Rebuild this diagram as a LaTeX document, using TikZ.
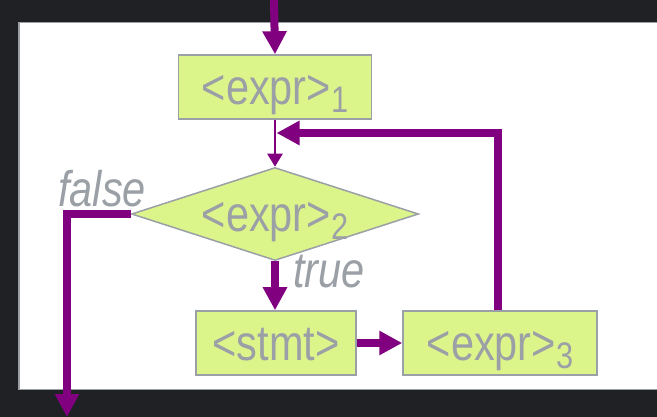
\documentclass[tikz,border=0pt]{standalone}
\usepackage{fontspec}
\setmainfont{Liberation Sans}[FakeStretch=0.83]
\usetikzlibrary{arrows.meta,shapes.geometric}

\definecolor{bgdark}{HTML}{202124}
\definecolor{edgegray}{HTML}{9AA0A6}
\definecolor{boxfill}{HTML}{DCF58B}
\definecolor{flowpurple}{HTML}{800080}

% large label font and lowered index
\newcommand{\bigfont}{\fontsize{50pt}{52pt}\selectfont}
\newcommand{\lowidx}[1]{\raisebox{-8pt}{\fontsize{37pt}{39pt}\selectfont #1}}

\tikzset{
  stepbox/.style={draw=edgegray, line width=1.5pt, fill=boxfill, text=edgegray,
    font=\bigfont, inner sep=0pt, text height=35pt, text depth=0pt,
    minimum height=64pt},
  testbox/.style={diamond, draw=edgegray, line width=1.5pt, fill=boxfill,
    text=edgegray, font=\bigfont, inner sep=0pt, text height=35pt,
    text depth=0pt, shape aspect=3, minimum width=287pt, minimum height=93pt},
  flow/.style={draw=flowpurple, line width=8pt,
    -{Triangle[length=23pt,width=23pt]}},
  thinflow/.style={draw=flowpurple, line width=2.5pt,
    -{Triangle[length=13pt,width=15pt]}},
  lbl/.style={text=edgegray, font=\bigfont\itshape, inner sep=0pt}
}

\begin{document}
\begin{tikzpicture}[x=1pt, y=-1pt]
  % dark page and white panel
  \fill[bgdark] (0,0) rectangle (657,417);
  \useasboundingbox (0,0) rectangle (657,417);
  \draw[edgegray, line width=1.5pt, fill=white] (19,22.5) rectangle (662,389.5);

  % flowchart blocks
  \node (init) [stepbox, minimum width=193pt] at (275,87) {<expr>\lowidx{1}};
  \node (test) [testbox] at (275,214) {<expr>\lowidx{2}};
  \node (body) [stepbox, minimum width=160pt] at (276,343) {<stmt>};
  \node (incr) [stepbox, minimum width=194pt] at (500,343) {<expr>\lowidx{3}};

  % branch labels
  \node (falselbl) [lbl, anchor=base west] at (58,207) {false};
  \node (truelbl) [lbl, anchor=base west] at (293,288) {true};

  % free ends of the flow
  \coordinate (entry) at (274,0);
  \coordinate (exit) at (67,417);
  \coordinate (join) at (276.5,133);

  % connectors
  \draw[flow] (entry) -- (init.north);
  \draw[thinflow] (init.south) -- (test.north);
  \draw[flow] (test.south) -- (test.south |- body.north);
  \draw[flow] (body.east) -- (incr.west);
  \draw[flow] ([xshift=-2pt]incr.north) |- (join);
  \draw[flow] (test.west) -| (exit);
\end{tikzpicture}
\end{document}
